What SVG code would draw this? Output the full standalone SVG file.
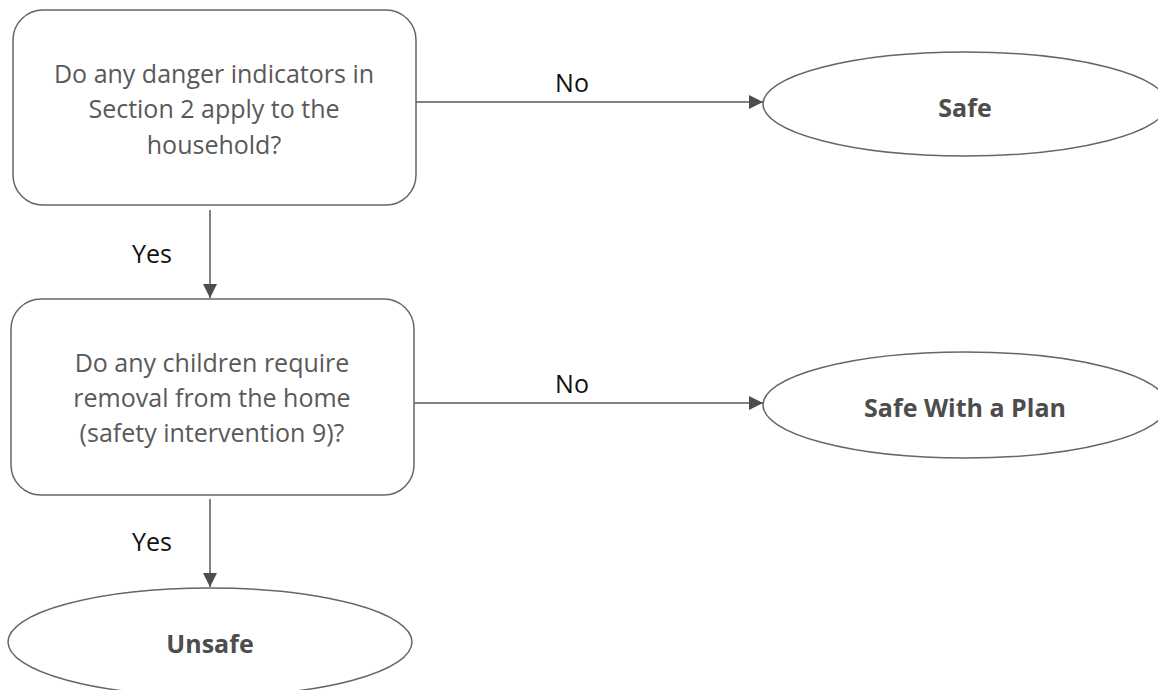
<svg xmlns="http://www.w3.org/2000/svg" width="1158" height="690" viewBox="0 0 1158 690">
<style>
.box{fill:#fff;stroke:#666;stroke-width:1.5}
.t{font-family:"Open Sans","Liberation Sans",sans-serif;font-size:25px;fill:#595959;text-anchor:middle}
.b{font-family:"Open Sans","Liberation Sans",sans-serif;font-size:25px;font-weight:bold;fill:#4d4d4d;text-anchor:middle}
.l{font-family:"Open Sans","Liberation Sans",sans-serif;font-size:25px;fill:#111;text-anchor:middle}
.c{fill:none;stroke:#595959;stroke-width:1.5}
</style>
<defs>
<marker id="av" viewBox="0 0 14 14" refX="14" refY="7" markerWidth="14" markerHeight="14" markerUnits="userSpaceOnUse" orient="auto">
<path d="M0,0 L14,7 L0,14 z" fill="#4d4d4d"/>
</marker>
</defs>
<rect width="1158" height="690" fill="#fff"/>
<g id="connectors">
<line class="c" x1="416" y1="102" x2="763" y2="102" marker-end="url(#av)"/>
<text class="l" x="572" y="92">No</text>
<line class="c" x1="210" y1="210" x2="210" y2="298" marker-end="url(#av)"/>
<text class="l" x="152" y="263">Yes</text>
<line class="c" x1="414" y1="403" x2="763" y2="403" marker-end="url(#av)"/>
<text class="l" x="572" y="393">No</text>
<line class="c" x1="210" y1="499" x2="210" y2="587" marker-end="url(#av)"/>
<text class="l" x="152" y="551">Yes</text>
</g>
<g id="q1">
<rect class="box" x="13" y="10" width="403" height="195" rx="30"/>
<text class="t" x="214" y="83">Do any danger indicators in</text>
<text class="t" x="214" y="118">Section 2 apply to the</text>
<text class="t" x="214" y="154">household?</text>
</g>
<g id="safe">
<ellipse class="box" cx="965" cy="104" rx="202" ry="52"/>
<text class="b" x="965" y="117">Safe</text>
</g>
<g id="q2">
<rect class="box" x="11" y="299" width="403" height="196" rx="30"/>
<text class="t" x="212" y="372">Do any children require</text>
<text class="t" x="212" y="407">removal from the home</text>
<text class="t" x="212" y="442">(safety intervention 9)?</text>
</g>
<g id="safeplan">
<ellipse class="box" cx="965" cy="405" rx="202" ry="53"/>
<text class="b" x="965" y="417">Safe With a Plan</text>
</g>
<g id="unsafe">
<ellipse class="box" cx="210" cy="642" rx="202" ry="54"/>
<text class="b" x="210" y="653">Unsafe</text>
</g>
</svg>
